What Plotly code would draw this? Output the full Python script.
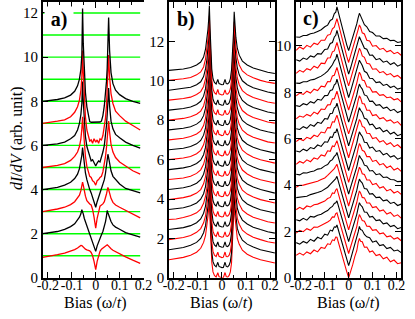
import plotly.graph_objects as go

# ---------------- panel a (absolute values, offset curves) ----------------
bias_a = [-0.222, -0.19, -0.16, -0.13, -0.105, -0.088, -0.076, -0.068, -0.062, -0.058,
          -0.055, -0.052, -0.048, -0.043, -0.037, -0.031, -0.025, -0.019, -0.013, -0.007,
          0.0, 0.006, 0.012, 0.018, 0.024, 0.03, 0.036, 0.041, 0.045, 0.048,
          0.051, 0.054, 0.058, 0.064, 0.072, 0.083, 0.1, 0.125, 0.155, 0.186]

a_curve_1 = [0.93, 0.98, 1.05, 1.12, 1.2, 1.28, 1.35, 1.42, 1.47, 1.46, 1.42, 1.38, 1.32, 1.3, 1.27, 1.25, 1.22, 1.15, 1.0, 0.75,
             0.37, 0.75, 1.05, 1.2, 1.3, 1.36, 1.42, 1.47, 1.5, 1.5, 1.47, 1.43, 1.38, 1.32, 1.25, 1.18, 1.08, 0.95, 0.8, 0.66]
a_curve_2 = [2.0, 2.05, 2.1, 2.2, 2.32, 2.45, 2.6, 2.75, 2.9, 3.09, 2.98, 2.9, 2.7, 2.55, 2.4, 2.2, 2.0, 1.85, 1.65, 1.45,
             1.2, 1.45, 1.65, 1.8, 1.95, 2.1, 2.3, 2.55, 2.8, 3.05, 2.95, 2.85, 2.7, 2.55, 2.4, 2.3, 2.2, 2.05, 1.95, 1.84]
a_curve_3 = [3.0, 3.05, 3.12, 3.2, 3.32, 3.45, 3.6, 3.75, 3.95, 4.15, 4.34, 4.2, 3.95, 3.7, 3.5, 3.4, 3.35, 3.3, 3.1, 2.75,
             2.25, 2.7, 3.05, 3.25, 3.3, 3.35, 3.45, 3.6, 3.8, 3.95, 4.1, 4.0, 3.8, 3.6, 3.42, 3.3, 3.2, 3.05, 2.88, 2.72]
a_curve_4 = [4.0, 4.04, 4.1, 4.2, 4.33, 4.5, 4.7, 4.95, 5.25, 5.55, 5.9, 5.6, 5.15, 4.75, 4.45, 4.2, 4.0, 3.85, 3.65, 3.45,
             3.2, 3.45, 3.65, 3.85, 4.0, 4.2, 4.45, 4.75, 5.05, 5.35, 5.6, 5.45, 5.15, 4.85, 4.6, 4.45, 4.25, 4.05, 3.95, 3.85]
a_curve_5 = [5.0, 5.04, 5.1, 5.18, 5.32, 5.5, 5.7, 5.95, 6.3, 6.75, 7.3, 6.8, 6.1, 5.5, 5.05, 4.75, 4.6, 4.55, 4.4, 4.35,
             4.2, 4.4, 4.45, 4.55, 4.6, 4.8, 5.1, 5.5, 5.9, 6.35, 6.8, 7.1, 6.6, 6.05, 5.7, 5.45, 5.25, 5.05, 4.85, 4.7]
a_curve_6 = [6.0, 6.03, 6.07, 6.15, 6.3, 6.45, 6.7, 7.0, 7.4, 7.9, 8.9, 8.0, 7.1, 6.4, 5.95, 5.7, 5.45, 5.3, 5.35, 5.2,
             5.07, 5.2, 5.3, 5.25, 5.45, 5.7, 6.0, 6.4, 6.9, 7.4, 8.0, 8.6, 7.8, 7.1, 6.75, 6.5, 6.35, 6.15, 6.0, 5.88]
a_curve_7 = [7.0, 7.04, 7.1, 7.16, 7.3, 7.5, 7.75, 8.05, 8.5, 9.1, 10.3, 9.3, 8.2, 7.3, 6.7, 6.4, 6.2, 6.25, 6.1, 6.3,
             6.15, 6.25, 6.1, 6.3, 6.25, 6.45, 6.8, 7.25, 7.8, 8.4, 9.2, 10.1, 9.1, 8.35, 7.9, 7.55, 7.35, 7.1, 6.9, 6.7]
a_curve_8 = [8.0, 8.03, 8.08, 8.15, 8.28, 8.45, 8.7, 9.0, 9.45, 10.1, 12.2, 10.6, 9.3, 8.4, 7.75, 7.3, 7.08, 7.05, 7.05, 7.05,
             7.05, 7.05, 7.05, 7.06, 7.1, 7.35, 7.8, 8.35, 8.9, 9.5, 10.4, 11.8, 10.3, 9.3, 8.8, 8.5, 8.3, 8.12, 8.0, 7.9]
curves_a = [a_curve_1, a_curve_2, a_curve_3, a_curve_4, a_curve_5, a_curve_6, a_curve_7, a_curve_8]
colors_a = ["#ff0000", "#000000"] * 4
green_levels_a = [1, 2, 3, 4, 5, 6, 7, 8, 9, 10, 11, 12]

# ---------------- panel b (relative spectra + vertical offsets) ----------------
bias_b = [-0.22, -0.19, -0.16, -0.13, -0.105, -0.088, -0.076, -0.068, -0.062, -0.058,
          -0.055, -0.052, -0.049, -0.046, -0.042, -0.037, -0.031, -0.024, -0.017, -0.012,
          -0.006, 0.0, 0.006, 0.013, 0.018, 0.024, 0.03, 0.035, 0.04, 0.044,
          0.048, 0.051, 0.054, 0.058, 0.064, 0.072, 0.085, 0.105, 0.13, 0.16, 0.19, 0.22]
offsets_b = [0.0, 0.5, 1.0, 1.5, 2.0, 2.5, 3.0, 3.5, 4.0, 4.5, 5.0, 5.5, 6.0, 6.5, 7.0, 7.5, 8.0, 8.5, 9.0, 9.5]
rel_b = [
    [0.92, 0.97, 1.04, 1.15, 1.3, 1.5, 1.8, 2.15, 2.6, 3.1, 3.5, 4.0, 2.9, 1.8, 0.8, 0.3, 0.12, 0.04, 0.26, 0.06, 0.01, 0.0, 0.01, 0.27, 0.06, 0.04, 0.12, 0.3, 0.75, 1.7, 2.7, 3.8, 3.1, 2.5, 2.0, 1.7, 1.4, 1.2, 1.05, 0.92, 0.82, 0.75],
    [0.93, 0.98, 1.04, 1.15, 1.3, 1.5, 1.79, 2.15, 2.6, 3.1, 3.52, 4.02, 2.92, 1.82, 0.82, 0.32, 0.14, 0.06, 0.29, 0.08, 0.03, 0.02, 0.03, 0.29, 0.08, 0.06, 0.14, 0.32, 0.77, 1.71, 2.72, 3.82, 3.12, 2.52, 2.01, 1.71, 1.41, 1.21, 1.06, 0.93, 0.83, 0.76],
    [0.94, 0.98, 1.05, 1.15, 1.31, 1.5, 1.79, 2.14, 2.6, 3.1, 3.52, 4.03, 2.93, 1.83, 0.83, 0.34, 0.15, 0.08, 0.3, 0.09, 0.05, 0.03, 0.05, 0.31, 0.08, 0.07, 0.15, 0.33, 0.78, 1.72, 2.73, 3.83, 3.13, 2.53, 2.02, 1.72, 1.42, 1.22, 1.06, 0.94, 0.83, 0.77],
    [0.95, 0.99, 1.05, 1.15, 1.3, 1.49, 1.78, 2.14, 2.6, 3.1, 3.53, 4.05, 2.95, 1.85, 0.85, 0.35, 0.17, 0.09, 0.32, 0.11, 0.06, 0.05, 0.06, 0.32, 0.11, 0.09, 0.17, 0.35, 0.8, 1.73, 2.75, 3.84, 3.15, 2.55, 2.03, 1.73, 1.43, 1.23, 1.07, 0.95, 0.84, 0.77],
    [0.96, 0.99, 1.06, 1.16, 1.3, 1.49, 1.78, 2.14, 2.6, 3.1, 3.54, 4.07, 2.96, 1.86, 0.86, 0.37, 0.18, 0.1, 0.34, 0.12, 0.07, 0.06, 0.08, 0.33, 0.12, 0.1, 0.19, 0.36, 0.81, 1.74, 2.76, 3.86, 3.16, 2.56, 2.04, 1.74, 1.44, 1.24, 1.08, 0.96, 0.85, 0.78],
    [0.97, 1.0, 1.06, 1.16, 1.3, 1.49, 1.77, 2.13, 2.6, 3.1, 3.54, 4.08, 2.97, 1.87, 0.88, 0.38, 0.2, 0.12, 0.35, 0.14, 0.09, 0.08, 0.09, 0.35, 0.14, 0.12, 0.2, 0.38, 0.83, 1.75, 2.77, 3.87, 3.17, 2.57, 2.05, 1.75, 1.45, 1.25, 1.09, 0.96, 0.86, 0.79],
    [0.97, 1.01, 1.07, 1.16, 1.3, 1.48, 1.77, 2.13, 2.6, 3.1, 3.55, 4.1, 2.98, 1.88, 0.89, 0.4, 0.21, 0.13, 0.37, 0.15, 0.1, 0.09, 0.11, 0.36, 0.15, 0.13, 0.22, 0.39, 0.84, 1.76, 2.78, 3.88, 3.18, 2.58, 2.06, 1.75, 1.45, 1.25, 1.1, 0.97, 0.87, 0.8],
    [0.98, 1.01, 1.07, 1.16, 1.3, 1.48, 1.76, 2.13, 2.6, 3.1, 3.55, 4.12, 2.99, 1.89, 0.91, 0.41, 0.23, 0.15, 0.38, 0.17, 0.12, 0.11, 0.12, 0.38, 0.17, 0.15, 0.23, 0.41, 0.86, 1.76, 2.8, 3.9, 3.19, 2.59, 2.07, 1.76, 1.46, 1.26, 1.11, 0.98, 0.88, 0.8],
    [0.99, 1.02, 1.07, 1.16, 1.3, 1.48, 1.76, 2.12, 2.6, 3.1, 3.56, 4.13, 3.0, 1.9, 0.92, 0.43, 0.24, 0.16, 0.4, 0.18, 0.13, 0.12, 0.14, 0.39, 0.18, 0.16, 0.25, 0.42, 0.87, 1.77, 2.81, 3.91, 3.2, 2.6, 2.08, 1.77, 1.47, 1.27, 1.11, 0.98, 0.88, 0.81],
    [0.99, 1.02, 1.08, 1.16, 1.3, 1.47, 1.75, 2.12, 2.6, 3.1, 3.56, 4.15, 3.01, 1.91, 0.94, 0.44, 0.26, 0.18, 0.41, 0.2, 0.15, 0.14, 0.15, 0.41, 0.2, 0.18, 0.26, 0.44, 0.89, 1.77, 2.82, 3.92, 3.21, 2.61, 2.09, 1.77, 1.47, 1.27, 1.12, 0.99, 0.89, 0.82],
    [1.0, 1.03, 1.08, 1.16, 1.3, 1.47, 1.75, 2.12, 2.6, 3.1, 3.57, 4.17, 3.02, 1.92, 0.96, 0.46, 0.28, 0.2, 0.44, 0.22, 0.17, 0.16, 0.18, 0.42, 0.22, 0.2, 0.29, 0.46, 0.91, 1.78, 2.83, 3.93, 3.22, 2.62, 2.1, 1.78, 1.48, 1.28, 1.12, 0.99, 0.89, 0.82],
    [1.0, 1.03, 1.08, 1.16, 1.3, 1.47, 1.74, 2.11, 2.6, 3.1, 3.57, 4.18, 3.03, 1.93, 0.97, 0.47, 0.29, 0.21, 0.44, 0.23, 0.18, 0.17, 0.18, 0.44, 0.23, 0.21, 0.29, 0.47, 0.92, 1.78, 2.84, 3.94, 3.23, 2.63, 2.11, 1.78, 1.48, 1.28, 1.13, 1.0, 0.9, 0.83],
    [1.0, 1.04, 1.08, 1.17, 1.3, 1.46, 1.73, 2.11, 2.6, 3.1, 3.58, 4.2, 3.04, 1.94, 0.99, 0.49, 0.31, 0.23, 0.47, 0.25, 0.2, 0.19, 0.21, 0.45, 0.25, 0.23, 0.32, 0.49, 0.94, 1.78, 2.85, 3.95, 3.24, 2.64, 2.12, 1.79, 1.49, 1.29, 1.13, 1.0, 0.9, 0.84],
    [1.01, 1.04, 1.09, 1.17, 1.3, 1.46, 1.73, 2.11, 2.6, 3.1, 3.58, 4.22, 3.05, 1.95, 1.0, 0.5, 0.32, 0.24, 0.47, 0.26, 0.21, 0.2, 0.21, 0.47, 0.26, 0.24, 0.32, 0.5, 0.95, 1.79, 2.86, 3.96, 3.25, 2.65, 2.12, 1.79, 1.49, 1.29, 1.14, 1.0, 0.91, 0.84],
    [1.01, 1.05, 1.09, 1.17, 1.3, 1.46, 1.72, 2.11, 2.6, 3.1, 3.58, 4.23, 3.06, 1.96, 1.02, 0.52, 0.34, 0.26, 0.5, 0.28, 0.23, 0.22, 0.24, 0.48, 0.28, 0.26, 0.35, 0.52, 0.97, 1.79, 2.87, 3.97, 3.26, 2.66, 2.13, 1.79, 1.49, 1.29, 1.14, 1.01, 0.91, 0.85],
    [1.01, 1.05, 1.09, 1.17, 1.3, 1.46, 1.72, 2.1, 2.6, 3.1, 3.59, 4.25, 3.07, 1.97, 1.03, 0.53, 0.35, 0.27, 0.5, 0.29, 0.24, 0.23, 0.24, 0.5, 0.29, 0.27, 0.35, 0.53, 0.98, 1.79, 2.88, 3.97, 3.27, 2.67, 2.14, 1.79, 1.5, 1.3, 1.14, 1.01, 0.92, 0.85],
    [1.02, 1.05, 1.1, 1.17, 1.3, 1.45, 1.71, 2.1, 2.6, 3.1, 3.59, 4.27, 3.08, 1.98, 1.05, 0.55, 0.37, 0.29, 0.53, 0.31, 0.26, 0.25, 0.27, 0.51, 0.31, 0.29, 0.38, 0.55, 1.0, 1.8, 2.89, 3.98, 3.28, 2.68, 2.14, 1.8, 1.5, 1.3, 1.15, 1.02, 0.92, 0.86],
    [1.02, 1.06, 1.1, 1.17, 1.3, 1.45, 1.71, 2.1, 2.6, 3.1, 3.6, 4.28, 3.09, 1.99, 1.06, 0.56, 0.38, 0.3, 0.53, 0.32, 0.27, 0.26, 0.27, 0.53, 0.32, 0.3, 0.38, 0.56, 1.01, 1.8, 2.9, 3.99, 3.29, 2.69, 2.15, 1.8, 1.5, 1.3, 1.15, 1.02, 0.93, 0.86],
    [1.03, 1.06, 1.1, 1.17, 1.3, 1.45, 1.7, 2.1, 2.6, 3.1, 3.6, 4.3, 3.1, 2.0, 1.08, 0.58, 0.4, 0.32, 0.56, 0.34, 0.29, 0.28, 0.3, 0.54, 0.34, 0.32, 0.41, 0.58, 1.03, 1.8, 2.9, 4.0, 3.3, 2.7, 2.15, 1.8, 1.5, 1.3, 1.15, 1.02, 0.93, 0.87],
    [1.03, 1.06, 1.1, 1.17, 1.3, 1.45, 1.7, 2.1, 2.6, 3.1, 3.6, 4.32, 3.1, 2.0, 1.1, 0.6, 0.42, 0.34, 0.57, 0.36, 0.31, 0.3, 0.31, 0.57, 0.36, 0.34, 0.42, 0.6, 1.05, 1.8, 2.9, 4.0, 3.3, 2.7, 2.15, 1.8, 1.5, 1.3, 1.15, 1.02, 0.93, 0.87],
]
colors_b = ["#ff0000", "#000000"] * 10

# ---------------- panel c (relative spectra + vertical offsets) ----------------
bias_c = [-0.22, -0.205, -0.19, -0.175, -0.16, -0.145, -0.13, -0.115, -0.1, -0.088,
          -0.077, -0.068, -0.06, -0.054, -0.049, -0.043, -0.035, -0.026, -0.017, -0.008,
          0.0, 0.008, 0.017, 0.026, 0.034, 0.04, 0.045, 0.05, 0.057, 0.066,
          0.076, 0.088, 0.1, 0.115, 0.13, 0.145, 0.16, 0.175, 0.19, 0.205, 0.22]
offsets_c = [0.0, 0.5, 1.0, 1.5, 2.0, 2.5, 3.0, 3.5, 4.0, 4.5, 5.0, 5.5, 6.0, 6.5, 7.0, 7.5, 8.0, 8.5, 9.0, 9.5]
rel_c = [
    [0.97, 1.07, 0.98, 1.12, 1.04, 1.2, 1.12, 1.31, 1.27, 1.47, 1.44, 1.64, 1.61, 1.76, 1.75, 1.52, 1.28, 0.89, 0.63, 0.27, 0.0, 0.33, 0.57, 0.93, 1.17, 1.53, 1.7, 1.58, 1.56, 1.32, 1.33, 1.11, 1.16, 0.96, 1.01, 0.82, 0.89, 0.69, 0.77, 0.61, 0.65],
    [1.02, 0.95, 1.07, 1.0, 1.16, 1.08, 1.25, 1.18, 1.38, 1.34, 1.56, 1.52, 1.7, 1.68, 1.78, 1.57, 1.22, 0.97, 0.59, 0.35, 0.03, 0.3, 0.64, 0.88, 1.24, 1.48, 1.72, 1.58, 1.55, 1.37, 1.27, 1.23, 1.04, 1.09, 0.89, 0.93, 0.76, 0.81, 0.66, 0.7, 0.59],
    [0.93, 1.05, 0.99, 1.12, 1.05, 1.19, 1.18, 1.26, 1.33, 1.41, 1.49, 1.63, 1.62, 1.77, 1.8, 1.58, 1.28, 0.94, 0.64, 0.34, 0.05, 0.33, 0.63, 0.93, 1.21, 1.53, 1.73, 1.63, 1.47, 1.44, 1.23, 1.22, 1.05, 1.08, 0.9, 0.94, 0.77, 0.81, 0.67, 0.73, 0.6],
    [1.01, 0.96, 1.07, 0.99, 1.15, 1.12, 1.2, 1.24, 1.34, 1.4, 1.52, 1.58, 1.71, 1.74, 1.82, 1.6, 1.3, 0.96, 0.65, 0.36, 0.06, 0.35, 0.65, 0.95, 1.24, 1.53, 1.74, 1.64, 1.56, 1.34, 1.33, 1.12, 1.15, 0.97, 1.0, 0.83, 0.87, 0.71, 0.76, 0.62, 0.67],
    [0.94, 1.04, 0.96, 1.1, 1.06, 1.15, 1.18, 1.25, 1.31, 1.42, 1.47, 1.66, 1.64, 1.79, 1.85, 1.62, 1.32, 0.98, 0.66, 0.36, 0.07, 0.36, 0.66, 0.96, 1.25, 1.55, 1.75, 1.66, 1.47, 1.45, 1.23, 1.23, 1.03, 1.07, 0.88, 0.93, 0.75, 0.82, 0.65, 0.72, 0.58],
    [0.96, 0.97, 1.01, 1.02, 1.09, 1.12, 1.18, 1.23, 1.32, 1.41, 1.53, 1.62, 1.73, 1.78, 1.88, 1.66, 1.35, 1.0, 0.67, 0.38, 0.09, 0.37, 0.67, 0.97, 1.27, 1.56, 1.76, 1.67, 1.59, 1.35, 1.33, 1.11, 1.13, 0.96, 0.98, 0.82, 0.86, 0.71, 0.76, 0.62, 0.68],
    [0.91, 0.99, 1.0, 1.04, 1.07, 1.13, 1.17, 1.24, 1.31, 1.42, 1.52, 1.63, 1.71, 1.81, 1.9, 1.68, 1.36, 1.02, 0.68, 0.39, 0.1, 0.39, 0.69, 0.99, 1.28, 1.58, 1.77, 1.69, 1.49, 1.46, 1.22, 1.22, 1.02, 1.07, 0.87, 0.93, 0.75, 0.82, 0.66, 0.73, 0.6],
    [0.97, 0.94, 1.03, 1.02, 1.08, 1.11, 1.19, 1.22, 1.33, 1.39, 1.54, 1.6, 1.74, 1.79, 1.91, 1.69, 1.38, 1.02, 0.69, 0.39, 0.11, 0.4, 0.69, 0.99, 1.29, 1.57, 1.78, 1.68, 1.58, 1.36, 1.33, 1.11, 1.13, 0.95, 0.99, 0.83, 0.85, 0.74, 0.73, 0.65, 0.66],
    [0.9, 1.02, 0.95, 1.09, 1.01, 1.17, 1.12, 1.3, 1.25, 1.48, 1.46, 1.69, 1.66, 1.85, 1.92, 1.7, 1.39, 1.03, 0.7, 0.4, 0.12, 0.41, 0.7, 1.0, 1.3, 1.6, 1.79, 1.7, 1.5, 1.45, 1.23, 1.23, 1.02, 1.07, 0.87, 0.93, 0.75, 0.83, 0.65, 0.73, 0.59],
    [0.97, 0.93, 1.05, 0.98, 1.12, 1.07, 1.23, 1.17, 1.37, 1.35, 1.58, 1.56, 1.78, 1.77, 1.94, 1.71, 1.4, 1.05, 0.71, 0.41, 0.13, 0.42, 0.71, 1.01, 1.31, 1.6, 1.8, 1.7, 1.6, 1.35, 1.34, 1.1, 1.14, 0.95, 0.99, 0.81, 0.87, 0.71, 0.77, 0.62, 0.68],
    [0.88, 0.99, 0.92, 1.06, 1.0, 1.15, 1.09, 1.29, 1.25, 1.48, 1.47, 1.73, 1.72, 1.95, 2.02, 1.8, 1.47, 1.1, 0.76, 0.46, 0.18, 0.46, 0.76, 1.06, 1.36, 1.64, 1.83, 1.75, 1.53, 1.49, 1.24, 1.23, 1.01, 1.05, 0.86, 0.92, 0.75, 0.83, 0.66, 0.74, 0.6],
    [0.93, 0.9, 1.02, 0.95, 1.11, 1.04, 1.21, 1.16, 1.37, 1.35, 1.59, 1.6, 1.83, 1.87, 2.04, 1.82, 1.48, 1.11, 0.77, 0.47, 0.19, 0.47, 0.77, 1.07, 1.37, 1.65, 1.84, 1.73, 1.63, 1.38, 1.34, 1.1, 1.13, 0.93, 0.98, 0.8, 0.87, 0.7, 0.78, 0.63, 0.69],
    [0.86, 0.98, 0.93, 1.05, 0.98, 1.15, 1.07, 1.28, 1.26, 1.46, 1.47, 1.72, 1.73, 1.95, 2.05, 1.83, 1.49, 1.12, 0.78, 0.48, 0.21, 0.48, 0.78, 1.08, 1.38, 1.66, 1.85, 1.76, 1.52, 1.5, 1.23, 1.23, 1.0, 1.04, 0.86, 0.91, 0.76, 0.81, 0.67, 0.74, 0.58],
    [0.93, 0.89, 1.01, 0.96, 1.1, 1.04, 1.2, 1.16, 1.36, 1.37, 1.58, 1.61, 1.83, 1.88, 2.07, 1.84, 1.5, 1.13, 0.79, 0.49, 0.22, 0.49, 0.79, 1.09, 1.39, 1.67, 1.86, 1.74, 1.64, 1.39, 1.35, 1.11, 1.12, 0.94, 0.97, 0.81, 0.86, 0.71, 0.77, 0.63, 0.7],
    [0.85, 0.97, 0.91, 1.05, 0.97, 1.14, 1.08, 1.27, 1.24, 1.47, 1.46, 1.71, 1.74, 1.96, 2.08, 1.85, 1.51, 1.14, 0.8, 0.5, 0.24, 0.5, 0.8, 1.1, 1.4, 1.68, 1.87, 1.77, 1.53, 1.5, 1.24, 1.22, 1.01, 1.03, 0.87, 0.9, 0.77, 0.8, 0.68, 0.73, 0.59],
    [0.9, 0.89, 0.96, 0.96, 1.03, 1.06, 1.13, 1.2, 1.31, 1.42, 1.57, 1.69, 1.86, 1.95, 2.15, 1.92, 1.58, 1.18, 0.84, 0.54, 0.27, 0.54, 0.84, 1.14, 1.44, 1.71, 1.89, 1.79, 1.66, 1.41, 1.35, 1.11, 1.1, 0.92, 0.95, 0.8, 0.85, 0.71, 0.77, 0.64, 0.69],
    [0.82, 0.95, 0.87, 1.02, 0.96, 1.13, 1.05, 1.26, 1.24, 1.48, 1.49, 1.75, 1.79, 2.03, 2.16, 1.93, 1.59, 1.19, 0.85, 0.55, 0.28, 0.55, 0.85, 1.15, 1.45, 1.72, 1.9, 1.81, 1.57, 1.51, 1.25, 1.22, 1.0, 1.02, 0.85, 0.9, 0.75, 0.81, 0.67, 0.73, 0.6],
    [0.91, 0.85, 0.98, 0.92, 1.07, 1.02, 1.17, 1.15, 1.35, 1.37, 1.61, 1.65, 1.89, 1.96, 2.17, 1.94, 1.59, 1.2, 0.85, 0.55, 0.29, 0.55, 0.85, 1.15, 1.45, 1.72, 1.9, 1.78, 1.67, 1.4, 1.36, 1.1, 1.11, 0.91, 0.96, 0.8, 0.85, 0.7, 0.78, 0.63, 0.7],
    [0.81, 0.96, 0.87, 1.03, 0.95, 1.12, 1.06, 1.25, 1.25, 1.47, 1.5, 1.74, 1.81, 2.02, 2.18, 1.95, 1.6, 1.2, 0.85, 0.55, 0.29, 0.56, 0.85, 1.15, 1.45, 1.72, 1.91, 1.81, 1.57, 1.52, 1.25, 1.22, 0.99, 1.02, 0.85, 0.9, 0.75, 0.81, 0.67, 0.73, 0.6],
    [0.89, 0.88, 0.95, 0.96, 1.03, 1.06, 1.13, 1.2, 1.33, 1.4, 1.6, 1.66, 1.9, 1.96, 2.19, 1.95, 1.6, 1.2, 0.85, 0.55, 0.3, 0.55, 0.85, 1.15, 1.45, 1.72, 1.91, 1.8, 1.65, 1.42, 1.33, 1.12, 1.08, 0.93, 0.93, 0.82, 0.83, 0.73, 0.75, 0.65, 0.68],
]
colors_c = ["#ff0000", "#000000"] * 10

x_tickvals = [-0.2, -0.1, 0, 0.1, 0.2]
x_ticktext = ["-0.2", "-0.1", "0", "0.1", "0.2"]
x_minorvals = [-0.15, -0.05, 0.05, 0.15]
y_tickvals_a = [0, 2, 4, 6, 8, 10, 12]
y_tickvals_b = [0, 2, 4, 6, 8, 10, 12]
y_tickvals_c = [0, 2, 4, 6, 8, 10]
panel_labels = ["a)", "b)", "c)"]
x_title = "Bias (ω/<i>t</i>)"
y_title = "<i>dI</i>/<i>dV</i> (arb. unit)"

# ---------------- figure ----------------
W, H = 415, 319
FONT = "Liberation Serif, Times New Roman, serif"


def fx(p):
    return p / W


def fy(p):
    return (H - p) / H


fig = go.Figure()

for lvl in green_levels_a:
    fig.add_trace(go.Scatter(x=[bias_a[0], bias_a[-1]], y=[lvl, lvl], mode="lines",
                             line=dict(color="#00ff00", width=1.4), xaxis="x", yaxis="y",
                             hoverinfo="skip", showlegend=False))
for ys, col in zip(curves_a, colors_a):
    fig.add_trace(go.Scatter(x=bias_a, y=ys, mode="lines", line=dict(color=col, width=1.3),
                             xaxis="x", yaxis="y", showlegend=False))
for rel, off, col in zip(rel_b, offsets_b, colors_b):
    fig.add_trace(go.Scatter(x=bias_b, y=[v + off for v in rel], mode="lines",
                             line=dict(color=col, width=1.1), xaxis="x2", yaxis="y2", showlegend=False))
for rel, off, col in zip(rel_c, offsets_c, colors_c):
    fig.add_trace(go.Scatter(x=bias_c, y=[v + off for v in rel], mode="lines",
                             line=dict(color=col, width=1.1), xaxis="x3", yaxis="y3", showlegend=False))

xtickfont = dict(family=FONT, size=14, color="black")
ytickfont = dict(family=FONT, size=15, color="black")
ydom = [fy(285), fy(2)]


def xaxis(domain, rng, anchor):
    return dict(domain=domain, range=rng, anchor=anchor, tickvals=x_tickvals, ticktext=x_ticktext,
                tickangle=0, ticks="inside", ticklen=6, tickwidth=1.2, tickcolor="black",
                ticklabelstandoff=-6,
                minor=dict(tickvals=x_minorvals, ticks="inside", ticklen=3, tickwidth=1.2, tickcolor="black"),
                showline=True, linecolor="black", linewidth=1.5, mirror="ticks",
                showgrid=False, zeroline=False, tickfont=xtickfont, fixedrange=True)


def yaxis(rng, anchor, tickvals, mirror):
    return dict(domain=ydom, range=rng, anchor=anchor, tickvals=tickvals,
                ticktext=[str(v) for v in tickvals], tickangle=0,
                ticks="inside", ticklen=6, tickwidth=1.2, tickcolor="black",
                showline=True, linecolor="black", linewidth=1.5, mirror=mirror,
                showgrid=False, zeroline=False, tickfont=ytickfont, fixedrange=True)


annotations = []
for xr in ["x", "x2", "x3"]:
    annotations.append(dict(xref=xr, yref="paper", x=0, y=fy(301), text=x_title, showarrow=False,
                            xanchor="center", yanchor="top", borderpad=0,
                            font=dict(family=FONT, size=16, color="black")))
annotations.append(dict(xref="paper", yref="paper", x=fx(12), y=fy(142), text=y_title, showarrow=False,
                        textangle=-90, xanchor="center", yanchor="middle",
                        font=dict(family=FONT, size=16, color="black")))
annotations.append(dict(xref="paper", yref="paper", x=fx(39), y=fy(20.5), text="<b>" + panel_labels[0] + "</b>",
                        showarrow=False, xanchor="left", yanchor="middle", width=26, align="center",
                        bgcolor="white", borderpad=1, font=dict(family=FONT, size=20, color="black")))
annotations.append(dict(xref="paper", yref="paper", x=fx(175), y=fy(20.5), text="<b>" + panel_labels[1] + "</b>",
                        showarrow=False, xanchor="left", yanchor="middle",
                        font=dict(family=FONT, size=20, color="black")))
annotations.append(dict(xref="paper", yref="paper", x=fx(306), y=fy(19), text="<b>" + panel_labels[2] + "</b>",
                        showarrow=False, xanchor="left", yanchor="middle",
                        font=dict(family=FONT, size=20, color="black")))

fig.update_layout(
    width=W, height=H,
    margin=dict(l=0, r=0, t=0, b=0),
    paper_bgcolor="white", plot_bgcolor="white",
    showlegend=False,
    xaxis=xaxis([fx(38), fx(142.7)], [-0.222, 0.2], "y"),
    yaxis=yaxis([0, 12.5], "x", y_tickvals_a, False),
    xaxis2=xaxis([fx(169), fx(279)], [-0.22, 0.22], "y2"),
    yaxis2=yaxis([0, 14], "x2", y_tickvals_b, "ticks"),
    xaxis3=xaxis([fx(301), fx(410)], [-0.22, 0.22], "y3"),
    yaxis3=yaxis([0, 11.9], "x3", y_tickvals_c, "ticks"),
    annotations=annotations,
)

fig.write_html("out.html", config={"displayModeBar": False},
               post_script="document.body.style.margin='0';document.body.style.overflow='hidden';")
